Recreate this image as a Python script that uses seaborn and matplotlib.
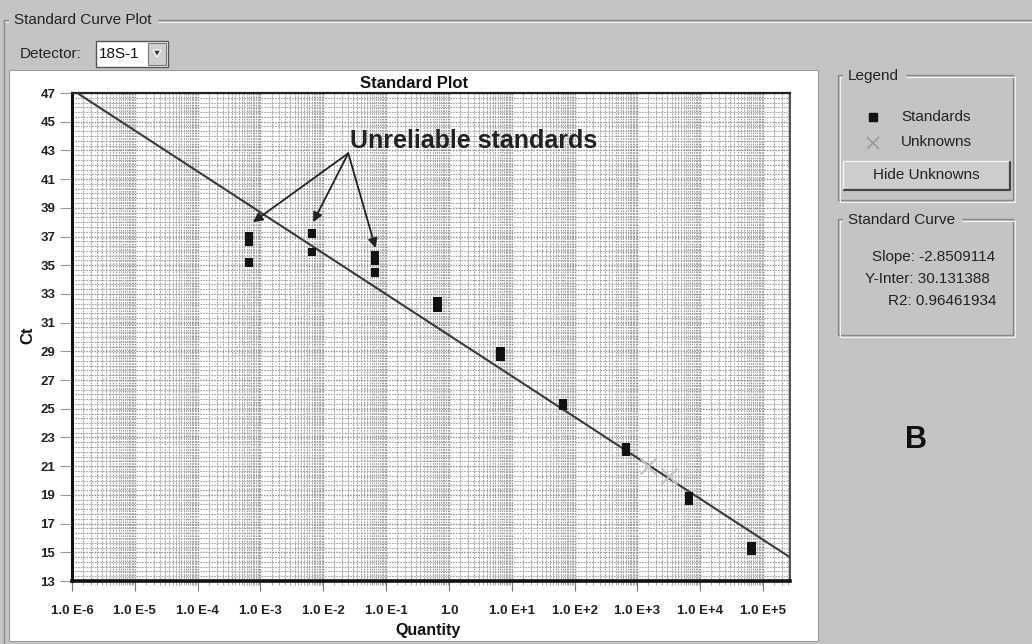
import numpy as np
import pandas as pd
import matplotlib
matplotlib.use("Agg")
import matplotlib.pyplot as plt
import matplotlib.ticker as mticker
from matplotlib.patches import Rectangle, Polygon
from matplotlib.lines import Line2D
import seaborn as sns

# ---------------- data ----------------
std_quantity = [6.6e-4, 6.6e-4, 6.6e-4,
                6.6e-3, 6.6e-3,
                6.6e-2, 6.6e-2, 6.6e-2,
                0.66, 0.66,
                6.6, 6.6,
                66, 66,
                660, 660,
                6600, 6600,
                66000, 66000]
std_ct = [37.0, 36.6, 35.2,
          37.2, 35.9,
          35.7, 35.3, 34.5,
          32.5, 32.0,
          29.0, 28.6,
          25.4, 25.2,
          22.3, 22.0,
          18.9, 18.6,
          15.4, 15.1]
unk_quantity = [1500, 3200]
unk_ct = [21.0, 20.3]

fit_slope = -2.8509114
fit_intercept = 30.131388
fit_r2 = 0.96461934
fit_x_ends = [1e-6, 10 ** 5.43]

x_tick_values = [1e-6, 1e-5, 1e-4, 1e-3, 1e-2, 1e-1, 1, 1e1, 1e2, 1e3, 1e4, 1e5]
x_tick_labels = ["1.0 E-6", "1.0 E-5", "1.0 E-4", "1.0 E-3", "1.0 E-2", "1.0 E-1",
                 "1.0", "1.0 E+1", "1.0 E+2", "1.0 E+3", "1.0 E+4", "1.0 E+5"]
y_tick_values = list(range(13, 48, 2))

annot_text = "Unreliable standards"
annot_targets_q = [7.6e-4, 6.9e-3, 6.8e-2]
annot_targets_ct = [38.0, 38.0, 36.2]
annot_origin = (2.5e-2, 42.8)

# ---------------- style ----------------
sns.set_theme(style="white")
plt.rcParams["font.family"] = ["Liberation Sans", "DejaVu Sans"]

W, H = 1032, 644
fig = plt.figure(figsize=(W / 100, H / 100), dpi=100)
BG = "#c4c4c4"
fig.patch.set_facecolor(BG)


def fx(x):
    return x / W


def fy(y):
    return 1 - y / H


def frect(x0, y0, x1, y1, **kw):
    r = Rectangle((fx(x0), fy(y1)), fx(x1) - fx(x0), fy(y0) - fy(y1),
                  transform=fig.transFigure, **kw)
    fig.patches.append(r)
    return r


def fline(xs, ys, **kw):
    fig.lines.append(Line2D([fx(v) for v in xs], [fy(v) for v in ys],
                            transform=fig.transFigure, **kw))


def etched_box(x0, y0, x1, y1):
    frect(x0, y0, x1, y1, facecolor="none", edgecolor="#8a8a8a", lw=1.0)
    frect(x0 + 1.5, y0 + 1.5, x1 + 1.5, y1 + 1.5, facecolor="none", edgecolor="#f2f2f2", lw=0.8)


# outer group box "Standard Curve Plot"
fline([4, 1032], [20, 20], color="#8a8a8a", lw=1.0)
fline([4, 1032], [21.5, 21.5], color="#f2f2f2", lw=0.8)
fline([4, 4], [20, 644], color="#8a8a8a", lw=1.0)
fig.text(fx(14), fy(20), "Standard Curve Plot", fontsize=11, va="center", ha="left",
         color="#222", backgroundcolor=BG)

# detector combo
fig.text(fx(20), fy(54), "Detector:", fontsize=11, va="center", ha="left", color="#222")
frect(96, 41, 168, 67, facecolor="white", edgecolor="#555", lw=1.0)
fig.text(fx(99), fy(54), "18S-1", fontsize=11, va="center", ha="left", color="#111")
frect(148, 43, 166, 65, facecolor="#cfcfcf", edgecolor="#777", lw=0.8)
fig.patches.append(Polygon([(fx(153), fy(50)), (fx(161), fy(50)), (fx(157), fy(57))],
                           closed=True, transform=fig.transFigure, facecolor="#333"))

# white plot panel
frect(9, 70, 818, 641, facecolor="white", edgecolor="#9a9a9a", lw=0.8)

# legend box
etched_box(838, 75, 1013, 200)
fig.text(fx(848), fy(76), "Legend", fontsize=11, va="center", ha="left", color="#222",
         backgroundcolor=BG)
fig.lines.append(Line2D([fx(873)], [fy(117)], marker="s", markersize=6, color="#111",
                        linestyle="none", transform=fig.transFigure))
fig.lines.append(Line2D([fx(873)], [fy(143)], marker="x", markersize=9, color="#999",
                        markeredgewidth=1.2, linestyle="none", transform=fig.transFigure))
fig.text(fx(901), fy(117), "Standards", fontsize=11, va="center", ha="left", color="#222")
fig.text(fx(901), fy(142), "Unknowns", fontsize=11, va="center", ha="left", color="#222")
frect(843, 161, 1010, 190, facecolor="#cdcdcd", edgecolor="#f4f4f4", lw=1.0)
fline([844, 1010, 1010], [190, 190, 162], color="#444", lw=1.6)
fig.text(fx(926), fy(175), "Hide Unknowns", fontsize=11, va="center", ha="center", color="#222")

# standard curve box
etched_box(838, 219, 1013, 335)
fig.text(fx(848), fy(220), "Standard Curve", fontsize=11, va="center", ha="left", color="#222",
         backgroundcolor=BG)
fig.text(fx(995), fy(257), f"Slope: {fit_slope}", fontsize=11, va="center", ha="right", color="#222")
fig.text(fx(990), fy(279), f"Y-Inter: {fit_intercept}", fontsize=11, va="center", ha="right", color="#222")
fig.text(fx(997), fy(301), f"R2: {fit_r2}", fontsize=11, va="center", ha="right", color="#222")

fig.text(fx(916), fy(440), "B", fontsize=22, fontweight="bold", va="center", ha="center", color="#111")

# ---------------- axes ----------------
ax_l, ax_r, ax_t, ax_b = 72, 790, 93, 581
ax = fig.add_axes([fx(ax_l), fy(ax_b), fx(ax_r) - fx(ax_l), fy(ax_t) - fy(ax_b)])
ax.set_zorder(5)
ax.set_facecolor("white")
ax.set_xscale("log")
ax.set_xlim(fit_x_ends[0], fit_x_ends[1])
ax.set_ylim(13, 47)

ax.xaxis.set_major_locator(mticker.FixedLocator(x_tick_values))
ax.xaxis.set_major_formatter(mticker.FixedFormatter(x_tick_labels))
ax.xaxis.set_minor_locator(mticker.LogLocator(base=10, subs=np.arange(1.0, 10.0, 0.5), numticks=100))
ax.xaxis.set_minor_formatter(mticker.NullFormatter())
ax.yaxis.set_major_locator(mticker.FixedLocator(y_tick_values))
ax.yaxis.set_minor_locator(mticker.FixedLocator(np.linspace(13, 47, 103)))

ax.grid(which="major", axis="both", color="#8a8a8a", linestyle=(0, (1, 1)), linewidth=1.0)
ax.grid(which="minor", axis="both", color="#a4a4a4", linestyle=(0, (1.5, 1)), linewidth=0.8)
ax.set_axisbelow(True)

ax.tick_params(axis="x", which="major", length=7, width=0.8, color="#777", pad=10,
               labelsize=9.5, labelcolor="#222", bottom=True)
ax.tick_params(axis="x", which="minor", length=3, width=0.6, color="#999", bottom=True)
ax.tick_params(axis="y", which="major", length=9, width=0.8, color="#999", pad=3,
               labelsize=9.5, labelcolor="#222", left=True)
ax.tick_params(axis="y", which="minor", length=0)

for side, lw, col in [("left", 2.2, "#111"), ("bottom", 2.6, "#111"),
                      ("top", 1.6, "#222"), ("right", 1.2, "#333")]:
    ax.spines[side].set_visible(True)
    ax.spines[side].set_linewidth(lw)
    ax.spines[side].set_color(col)

# fit line
fit_df = pd.DataFrame({"q": fit_x_ends,
                       "ct": [fit_intercept + fit_slope * np.log10(v) for v in fit_x_ends]})
sns.lineplot(data=fit_df, x="q", y="ct", ax=ax, color="#3a3a3a", linewidth=1.5, zorder=3)

# unknowns
unk_df = pd.DataFrame({"q": unk_quantity, "ct": unk_ct})
sns.scatterplot(data=unk_df, x="q", y="ct", ax=ax, marker="x", s=130, color="#c4c4c4",
                linewidth=1.6, zorder=4)

# standards
std_df = pd.DataFrame({"q": std_quantity, "ct": std_ct})
sns.scatterplot(data=std_df, x="q", y="ct", ax=ax, marker="s", s=36, color="#111",
                edgecolor="none", zorder=5)

ax.set_xlabel("")
ax.set_ylabel("")
ax.set_xlim(fit_x_ends[0], fit_x_ends[1])
ax.set_ylim(13, 47)
for lab in ax.get_xticklabels() + ax.get_yticklabels():
    lab.set_fontweight("bold")

# annotation
for tq, tc in zip(annot_targets_q, annot_targets_ct):
    ax.annotate("", xy=(tq, tc), xytext=annot_origin,
                arrowprops=dict(arrowstyle="-|>", color="#222", lw=1.3,
                                mutation_scale=14, shrinkA=0, shrinkB=0), zorder=6)
ax.text(annot_origin[0] * 1.05, annot_origin[1], annot_text, fontsize=18, fontweight="bold",
        color="#222", va="bottom", ha="left", zorder=6)

# titles
fig.text(fx(414), fy(83), "Standard Plot", fontsize=12, fontweight="bold", va="center",
         ha="center", color="#111")
fig.text(fx(28), fy(335), "Ct", fontsize=12, fontweight="bold", va="center", ha="center",
         rotation=90, color="#111")
fig.text(fx(428), fy(631), "Quantity", fontsize=11.5, fontweight="bold", va="center",
         ha="center", color="#111")

fig.savefig("out.png", dpi=100, facecolor=fig.get_facecolor())
